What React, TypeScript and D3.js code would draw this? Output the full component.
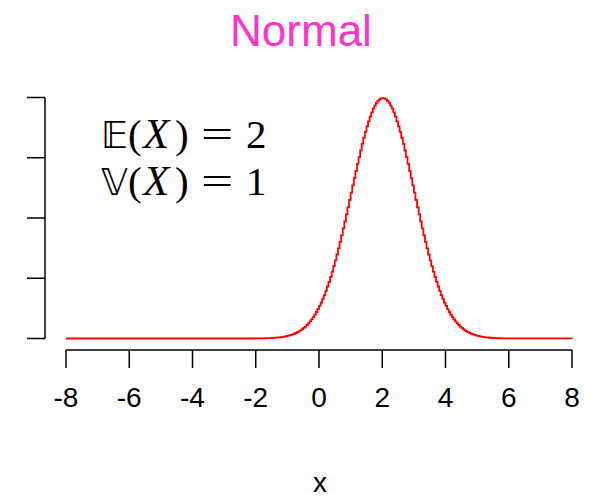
import React from "react";
import * as d3 from "d3";

// Normal(2, 1) density, sampled every 0.05 on [-2, 6]; zero (to the pixel) outside.
const gridStart = -2.0;
const gridStep = 0.05;
const density = [
  0.00013, 0.00016, 0.0002, 0.00024, 0.00029, 0.00035, 0.00042, 0.00051, 0.00061, 0.00073,
  0.00087, 0.00104, 0.00123, 0.00146, 0.00172, 0.00203, 0.00238, 0.00279, 0.00327, 0.00381,
  0.00443, 0.00514, 0.00595, 0.00687, 0.00792, 0.00909, 0.01042, 0.01191, 0.01358, 0.01545,
  0.01753, 0.01984, 0.02239, 0.02522, 0.02833, 0.03174, 0.03547, 0.03955, 0.04398, 0.04879,
  0.05399, 0.05959, 0.06562, 0.07207, 0.07895, 0.08628, 0.09405, 0.10227, 0.11092, 0.12002,
  0.12952, 0.13944, 0.14973, 0.16039, 0.17137, 0.18265, 0.19419, 0.20594, 0.21785, 0.22989,
  0.24197, 0.25406, 0.26609, 0.27798, 0.28969, 0.30114, 0.31225, 0.32297, 0.33322, 0.34294,
  0.35207, 0.36053, 0.36827, 0.37524, 0.38139, 0.38667, 0.39104, 0.39448, 0.39695, 0.39844,
  0.39894,
  0.39844, 0.39695, 0.39448, 0.39104, 0.38667, 0.38139, 0.37524, 0.36827, 0.36053, 0.35207,
  0.34294, 0.33322, 0.32297, 0.31225, 0.30114, 0.28969, 0.27798, 0.26609, 0.25406, 0.24197,
  0.22989, 0.21785, 0.20594, 0.19419, 0.18265, 0.17137, 0.16039, 0.14973, 0.13944, 0.12952,
  0.12002, 0.11092, 0.10227, 0.09405, 0.08628, 0.07895, 0.07207, 0.06562, 0.05959, 0.05399,
  0.04879, 0.04398, 0.03955, 0.03547, 0.03174, 0.02833, 0.02522, 0.02239, 0.01984, 0.01753,
  0.01545, 0.01358, 0.01191, 0.01042, 0.00909, 0.00792, 0.00687, 0.00595, 0.00514, 0.00443,
  0.00381, 0.00327, 0.00279, 0.00238, 0.00203, 0.00172, 0.00146, 0.00123, 0.00104, 0.00087,
  0.00073, 0.00061, 0.00051, 0.00042, 0.00035, 0.00029, 0.00024, 0.0002, 0.00016, 0.00013,
];
const xDomain = [-8, 8];
const xTicks = [-8, -6, -4, -2, 0, 2, 4, 6, 8];
const yTicks = [0, 0.1, 0.2, 0.3, 0.4];
const title = "Normal";
const xLabel = "x";
const statSymbols = ["\u{1D53C}", "\u{1D54D}"];
const statValues = [2, 1];

const W = 592;
const H = 497;

export default function App() {
  const x = d3.scaleLinear().domain(xDomain).range([66, 572]);
  const y = d3.scaleLinear().domain([0, 0.4]).range([338.5, 97.5]);

  const points: [number, number][] = [[xDomain[0], 0]];
  density.forEach((d, i) => points.push([gridStart + i * gridStep, d]));
  points.push([xDomain[1], 0]);

  const line = d3
    .line<[number, number]>()
    .x((d) => x(d[0]))
    .y((d) => y(d[1]))
    .curve(d3.curveStepAfter);

  const sans = "'Liberation Sans', Arial, sans-serif";
  const serif = "'Liberation Serif', 'DejaVu Serif', serif";

  return (
    <svg width={W} height={H} style={{ position: "absolute", left: 0, top: 0, background: "#fff" }}>
      <text x={301} y={46} textAnchor="middle" fontFamily={sans} fontSize={44} fill="#FF33CC">
        {title}
      </text>

      {/* y axis */}
      <g stroke="#000" strokeWidth={1.5}>
        <line x1={45} x2={45} y1={y(0.4)} y2={y(0)} />
        {yTicks.map((t) => (
          <line key={t} x1={27} x2={45} y1={y(t)} y2={y(t)} />
        ))}
      </g>

      {/* x axis */}
      <g stroke="#000" strokeWidth={1.5}>
        <line x1={x(-8)} x2={x(8)} y1={350} y2={350} />
        {xTicks.map((t) => (
          <line key={t} x1={x(t)} x2={x(t)} y1={350} y2={368} />
        ))}
      </g>
      {xTicks.map((t) => (
        <text key={t} x={x(t)} y={407} textAnchor="middle" fontFamily={sans} fontSize={28} fill="#000">
          {t}
        </text>
      ))}
      <text x={320} y={492} textAnchor="middle" fontFamily={sans} fontSize={28} fill="#000">
        {xLabel}
      </text>

      <path d={line(points) ?? ""} fill="none" stroke="#FF0000" strokeWidth={1.8} />

      {/* moment annotations: E(X) = 2, V(X) = 1 */}
      {statSymbols.map((s, i) => {
        const base = 148 + i * 47;
        return (
          <g key={i} fontFamily={serif} fontSize={41} fill="#000">
            <text x={101} y={base} fontFamily="'DejaVu Sans', sans-serif" fontSize={37}>{s}</text>
            <text x={128} y={base}>(</text>
            <text x={143} y={base} fontStyle="italic" fontSize={43}>X</text>
            <text x={175} y={base}>)</text>
            <text transform={`translate(201, ${base}) scale(1.4, 1)`}>=</text>
            <text x={246} y={base}>{statValues[i]}</text>
          </g>
        );
      })}
    </svg>
  );
}
